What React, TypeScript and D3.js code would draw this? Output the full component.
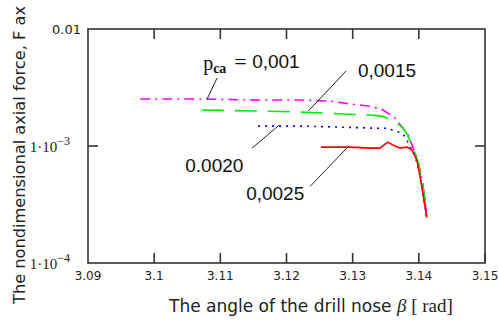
import React from 'react';
import * as d3 from 'd3';

// beta [rad] and nondimensional axial force, one pair of arrays per p_ca
const beta0010 = [3.0979, 3.1069, 3.116, 3.122, 3.1266, 3.1298, 3.1326, 3.1346, 3.1364, 3.1376, 3.1384, 3.1391, 3.1399, 3.1405, 3.1409, 3.1412];
const force0010 = [2.52e-3, 2.52e-3, 2.47e-3, 2.47e-3, 2.42e-3, 2.28e-3, 2.19e-3, 2.03e-3, 1.73e-3, 1.42e-3, 1.24e-3, 9.78e-4, 7.28e-4, 5.11e-4, 3.58e-4, 2.46e-4];

const beta0015 = [3.1072, 3.116, 3.122, 3.1258, 3.1296, 3.1326, 3.1343, 3.1358, 3.1375, 3.1382, 3.139, 3.1399, 3.1405, 3.1409, 3.1412];
const force0015 = [2.03e-3, 1.99e-3, 1.95e-3, 1.91e-3, 1.87e-3, 1.84e-3, 1.8e-3, 1.7e-3, 1.45e-3, 1.26e-3, 1.02e-3, 7.28e-4, 5.11e-4, 3.58e-4, 2.46e-4];

const beta0020 = [3.1157, 3.122, 3.1281, 3.1334, 3.1352, 3.1364, 3.1375, 3.1382, 3.139, 3.1396, 3.1402, 3.1406, 3.1412];
const force0020 = [1.48e-3, 1.48e-3, 1.45e-3, 1.42e-3, 1.42e-3, 1.34e-3, 1.29e-3, 1.12e-3, 9.2e-4, 7.56e-4, 5.63e-4, 3.95e-4, 2.46e-4];

const beta0025 = [3.1252, 3.1296, 3.1328, 3.1341, 3.1353, 3.1361, 3.1372, 3.1382, 3.139, 3.1397, 3.1402, 3.1406, 3.1412];
const force0025 = [9.78e-4, 9.78e-4, 9.59e-4, 9.59e-4, 1.08e-3, 1.02e-3, 9.59e-4, 9.78e-4, 9.2e-4, 7.56e-4, 5.41e-4, 3.95e-4, 2.46e-4];

const xTicks = [3.09, 3.1, 3.11, 3.12, 3.13, 3.14, 3.15];
const xTickLabels = ['3.09', '3.1', '3.11', '3.12', '3.13', '3.14', '3.15'];

// leader lines: [beta1, F1, beta2, F2]
const leaders = [
  [3.1095, 3.81e-3, 3.108, 2.52e-3],
  [3.129, 4.37e-3, 3.1233, 1.99e-3],
  [3.1189, 1.51e-3, 3.1148, 9.59e-4],
  [3.1294, 9.98e-4, 3.1236, 4.53e-4],
];
const labelText = ['0,0015', '0.0020', '0,0025'];
const labelPos = [
  [3.1308, 3.88e-3],
  [3.1047, 5.97e-4],
  [3.1139, 3.44e-4],
];

const width = 498;
const height = 320;
const marginLeft = 88;
const marginRight = 13;
const marginTop = 29;
const marginBottom = 57;

const App: React.FC = () => {
  const x = d3.scaleLinear().domain([3.09, 3.15]).range([marginLeft, width - marginRight]);
  const y = d3.scaleLog().domain([1e-4, 1e-2]).range([height - marginBottom, marginTop]);

  const line = d3.line<[number, number]>()
    .x(d => x(d[0]))
    .y(d => y(d[1]));

  const series = [
    { b: beta0010, f: force0010, color: '#ff00ff', dash: '10,5,2,5' },
    { b: beta0015, f: force0015, color: '#00f000', dash: '22,11' },
    { b: beta0020, f: force0020, color: '#0000ff', dash: '2,5' },
    { b: beta0025, f: force0025, color: '#ff0000', dash: undefined },
  ];

  const x0 = x(3.09), x1 = x(3.15), y0 = y(1e-4), y1 = y(1e-2);
  const tickColor = '#333';
  const tickFont = { fontFamily: 'DejaVu Sans', fontSize: 12, fill: '#222' };
  const px = x(3.1074), py = y(4.46e-3);

  return (
    <svg width={width} height={height} style={{ position: 'fixed', left: 0, top: 0, background: '#fff' }}>
      <g fill="none" strokeWidth={1.6}>
        {series.map((s, i) => (
          <path key={i} d={line(s.b.map((b, j) => [b, s.f[j]] as [number, number])) || ''}
            stroke={s.color} strokeDasharray={s.dash} />
        ))}
      </g>

      <rect x={x0} y={y1} width={x1 - x0} height={y0 - y1} fill="none" stroke={tickColor} strokeWidth={1.6} />
      <g stroke={tickColor} strokeWidth={1.6}>
        {xTicks.slice(1).map((t, i) => (
          <g key={i}>
            {t < 3.15 && <line x1={x(t)} x2={x(t)} y1={y1} y2={y1 + 10} />}
            <line x1={x(t)} x2={x(t)} y1={y0} y2={y0 - 10} />
          </g>
        ))}
        <line x1={x0} x2={x0 + 10} y1={y(1e-3)} y2={y(1e-3)} />
        <line x1={x1} x2={x1 - 10} y1={y(1e-3)} y2={y(1e-3)} />
      </g>

      <g style={tickFont}>
        {xTicks.map((t, i) => (
          <text key={i} x={x(t)} y={y0 + 17} textAnchor="middle">{xTickLabels[i]}</text>
        ))}
        <text x={x0 - 7} y={y1 + 5} textAnchor="end" fontSize={13}>0.01</text>
        <text x={x0 - 18} y={y(1e-3) + 6} textAnchor="end" fontFamily="Liberation Serif" fontSize={15}>
          1·10<tspan dy={-7} fontSize={12}>−3</tspan>
        </text>
        <text x={x0 - 18} y={y0 + 6} textAnchor="end" fontFamily="Liberation Serif" fontSize={15}>
          1·10<tspan dy={-7} fontSize={12}>−4</tspan>
        </text>
      </g>

      <text transform={`translate(25,155) rotate(-90)`} textAnchor="middle"
        fontFamily="DejaVu Sans" fontSize={16.5} fill="#222" textLength={298} lengthAdjust="spacingAndGlyphs">
        The nondimensional axial force, F ax
      </text>
      <text x={169} y={312} fontFamily="DejaVu Sans" fontSize={17} fill="#222">
        The angle of the drill nose <tspan fontFamily="Liberation Serif" fontStyle="italic" fontSize={19}>β</tspan>
        <tspan fontFamily="Liberation Serif" fontSize={19}> [ rad]</tspan>
      </text>

      <g stroke="#222" strokeWidth={1}>
        {leaders.map((l, i) => (
          <line key={i} x1={x(l[0])} y1={y(l[1])} x2={x(l[2])} y2={y(l[3])} />
        ))}
      </g>

      <g fill="#111">
        <text x={px} y={py} fontFamily="Liberation Serif" fontSize={20}>p</text>
        <text x={px + 10} y={py + 3} fontFamily="Liberation Serif" fontSize={14} fontWeight="bold">ca</text>
        <text x={px + 31} y={py - 1} fontFamily="Liberation Serif" fontSize={22}>=</text>
        <text x={px + 49} y={py - 2} fontFamily="Liberation Sans" fontSize={19}>0,001</text>
        {labelText.map((t, i) => (
          <text key={i} x={x(labelPos[i][0])} y={y(labelPos[i][1])} fontFamily="Liberation Sans" fontSize={19}>{t}</text>
        ))}
      </g>
    </svg>
  );
};

export default App;
